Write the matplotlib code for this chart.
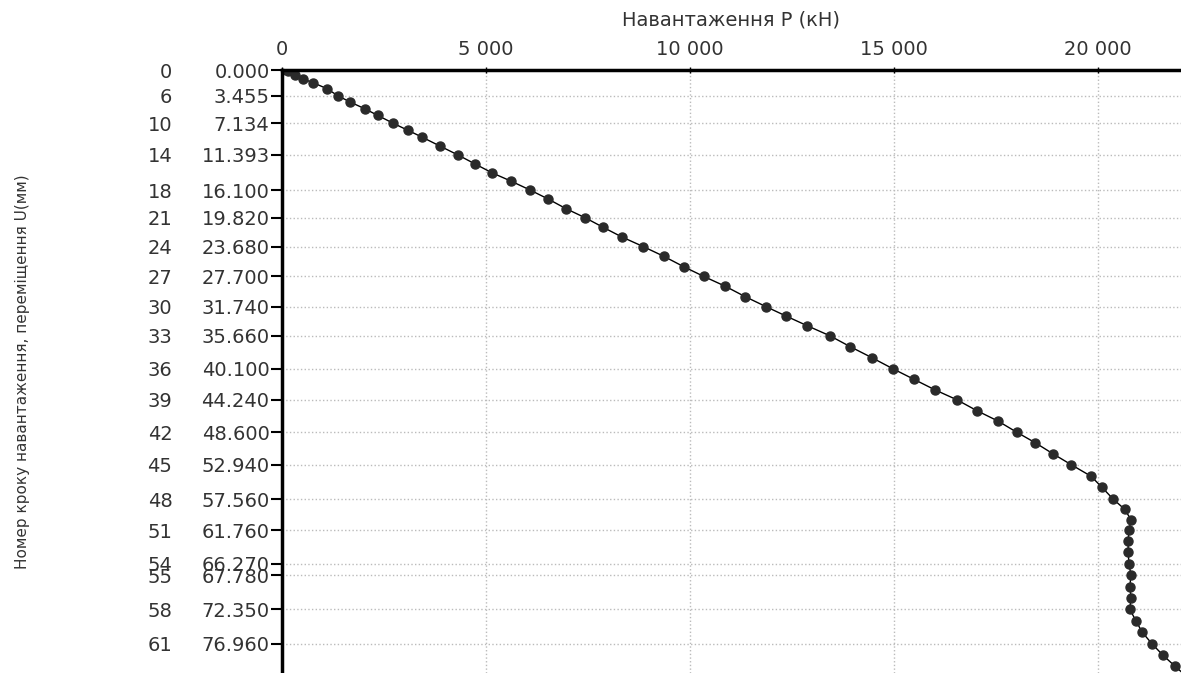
import matplotlib.pyplot as plt

# load step -> load P (kN) and settlement U (mm)
p_kn = [0, 150, 320, 515, 760, 1100, 1370, 1670, 2030, 2350,
        2720, 3090, 3430, 3870, 4310, 4730, 5150, 5610, 6080, 6520,
        6960, 7430, 7870, 8330, 8850, 9360, 9850, 10340, 10860, 11350,
        11860, 12350, 12870, 13430, 13920, 14460, 14980, 15490, 16000, 16540,
        17030, 17550, 18010, 18460, 18900, 19340, 19830, 20100, 20370, 20660,
        20810, 20760, 20740, 20740, 20760, 20810, 20780, 20810, 20780, 20930,
        21080, 21320, 21590, 21890, 22200]
u_mm = [0.0, 0.2, 0.7, 1.2, 1.7, 2.5, 3.455, 4.3, 5.2, 6.1,
        7.134, 8.1, 9.0, 10.2, 11.393, 12.6, 13.8, 14.9, 16.1, 17.3,
        18.6, 19.82, 21.1, 22.4, 23.68, 25.0, 26.4, 27.7, 29.0, 30.4,
        31.74, 33.0, 34.3, 35.66, 37.1, 38.6, 40.1, 41.5, 42.9, 44.24,
        45.7, 47.1, 48.6, 50.0, 51.5, 52.94, 54.5, 56.0, 57.56, 58.96,
        60.36, 61.76, 63.2, 64.7, 66.27, 67.78, 69.3, 70.8, 72.35, 73.9,
        75.4, 76.96, 78.5, 80.0, 81.5]

# labelled steps on the left axis
tick_steps = [0, 6, 10, 14, 18, 21, 24, 27, 30, 33, 36, 39, 42, 45, 48, 51, 54, 55, 58, 61]
tick_u = [0.000, 3.455, 7.134, 11.393, 16.100, 19.820, 23.680, 27.700, 31.740, 35.660,
          40.100, 44.240, 48.600, 52.940, 57.560, 61.760, 66.270, 67.780, 72.350, 76.960]
x_ticks = [0, 5000, 10000, 15000, 20000]

plt.rcParams['font.family'] = ['DejaVu Sans']
fig = plt.figure(figsize=(11.81, 6.73), dpi=100)
ax = fig.add_axes([282/1181, 0, 1 - 282/1181, 1 - 70/673])

ax.plot(p_kn, u_mm, color='black', linewidth=1, marker='o', markersize=6.5,
        markerfacecolor='#2a2a2a', markeredgecolor='#2a2a2a', clip_on=True)

ax.set_xlim(0, 22035)
ax.set_ylim(80.9, 0)

ax.xaxis.tick_top()
ax.xaxis.set_label_position('top')
ax.set_xticks(x_ticks)
ax.set_xticklabels([f"{v:,}".replace(',', ' ') for v in x_ticks], fontsize=14, color='#333333')
ax.set_xlabel('Навантаження P (кН)', fontsize=14, color='#333333', labelpad=10)
ax.tick_params(axis='x', length=4, width=1, direction='inout', pad=6)

ax.set_yticks(tick_u)
ax.set_yticklabels([f"{v:.3f}" for v in tick_u], fontsize=14, color='#333333')
ax.tick_params(axis='y', length=8, width=1.5, pad=1)

for s, u in zip(tick_steps, tick_u):
    ax.text(-0.122, u, str(s), transform=ax.get_yaxis_transform(), ha='right',
            va='center_baseline', fontsize=14, color='#333333')

fig.text(22/1181, 1 - 372/673, 'Номер кроку навантаження, переміщення U(мм)',
         rotation=90, ha='center', va='center', fontsize=11, color='#333333')

ax.grid(True, color='#bbbbbb', linestyle=':', linewidth=1)
for side in ['right', 'bottom']:
    ax.spines[side].set_visible(False)
ax.spines['top'].set_linewidth(2.5)
ax.spines['left'].set_linewidth(2.5)

fig.savefig('out.png', dpi=100)
